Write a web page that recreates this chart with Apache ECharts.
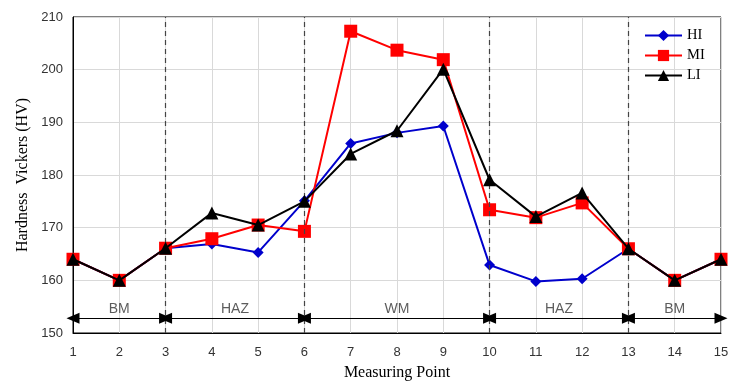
<!DOCTYPE html>
<html><head><meta charset="utf-8">
<script src="https://cdn.jsdelivr.net/npm/echarts@6/dist/echarts.min.js"></script>
<style>html,body{margin:0;padding:0;background:#fff}#c{width:745px;height:386px}</style>
</head><body><div id="c"></div>
<script>
const points = [1,2,3,4,5,6,7,8,9,10,11,12,13,14,15];
const HI = [164,160,166.1,166.9,165.3,175.1,186.0,188.0,189.3,162.9,159.8,160.3,166.0,160,164];
const MI = [164,160,166.1,167.9,170.5,169.3,207.3,203.7,201.9,173.4,171.9,174.7,166.0,160,164];
const LI = [164,160,166.1,172.8,170.5,175.0,184.0,188.4,200.1,179.1,172.1,176.6,166.0,160,164];
const boundaries = [3,6,10,13];
const zoneStarts = [1,3,6,10,13];
const zoneEnds = [3,6,10,13,15];
const zoneNames = ['BM','HAZ','WM','HAZ','BM'];
const arrowY = 152.8;
const zoneLabelY = 154.6;

const chart = echarts.init(document.getElementById('c'));
const pair = arr => arr.map((v,i)=>[points[i], v]);
const serif = 'Liberation Serif';
const sans = 'Liberation Sans';

chart.setOption({
  animation: false,
  grid: {left: 73, right: 24, top: 17, bottom: 49, show: true, borderColor: '#000', borderWidth: 1},
  legend: {
    orient: 'vertical', left: 639, top: 23, itemGap: 5, itemWidth: 37, itemHeight: 14,
    textStyle: {fontFamily: serif, fontSize: 14.5, color: '#000'},
    data: ['HI','MI','LI']
  },
  xAxis: {
    type: 'value', min: 1, max: 15, interval: 1,
    name: 'Measuring Point', nameLocation: 'middle', nameGap: 32,
    nameTextStyle: {fontFamily: serif, fontSize: 16, color: '#000'},
    axisLine: {lineStyle: {color: '#000'}}, axisTick: {show: false},
    axisLabel: {fontFamily: sans, fontSize: 13, color: '#333', margin: 13},
    splitLine: {show: true, lineStyle: {color: '#d9d9d9'}}
  },
  yAxis: {
    type: 'value', min: 150, max: 210, interval: 10,
    name: 'Hardness  Vickers (HV)', nameLocation: 'middle', nameGap: 42,
    nameTextStyle: {fontFamily: serif, fontSize: 16, color: '#000'},
    axisLine: {show: true, lineStyle: {color: '#000'}}, axisTick: {show: false},
    axisLabel: {fontFamily: sans, fontSize: 13, color: '#333', margin: 10},
    splitLine: {show: true, lineStyle: {color: '#d9d9d9'}}
  },
  series: [
    {name: 'HI', type: 'line', data: pair(HI), color: '#0000cc', symbol: 'diamond', symbolSize: 11,
     lineStyle: {width: 2}, z: 3},
    {name: 'MI', type: 'line', data: pair(MI), color: '#ff0000', symbol: 'rect', symbolSize: 13,
     lineStyle: {width: 2}, z: 4},
    {name: 'LI', type: 'line', data: pair(LI), color: '#000000', symbol: 'triangle', symbolSize: 13,
     lineStyle: {width: 2}, z: 5},
    {type: 'line', data: [], silent: true, z: 2,
     markLine: {
       silent: true, animation: false, symbol: 'none', label: {show: false},
       lineStyle: {color: '#444', type: [5,4], width: 1.2},
       data: boundaries.map(b => ({xAxis: b}))
     }},
    {type: 'line', data: [], silent: true, z: 6,
     markLine: {
       silent: true, animation: false, symbol: ['triangle','triangle'], symbolSize: [11,13],
       label: {show: false},
       lineStyle: {color: '#000', type: 'solid', width: 1},
       data: zoneStarts.map((s,i) => [{coord: [s, arrowY]}, {coord: [zoneEnds[i], arrowY]}])
     }},
    {type: 'scatter', symbolSize: 0, silent: true, z: 7,
     data: zoneNames.map((n,i) => ({value: [(zoneStarts[i]+zoneEnds[i])/2, zoneLabelY], name: n})),
     label: {show: true, position: 'inside', formatter: p => p.name,
       fontFamily: sans, fontSize: 14, color: '#333'}}
  ]
});
</script></body></html>
